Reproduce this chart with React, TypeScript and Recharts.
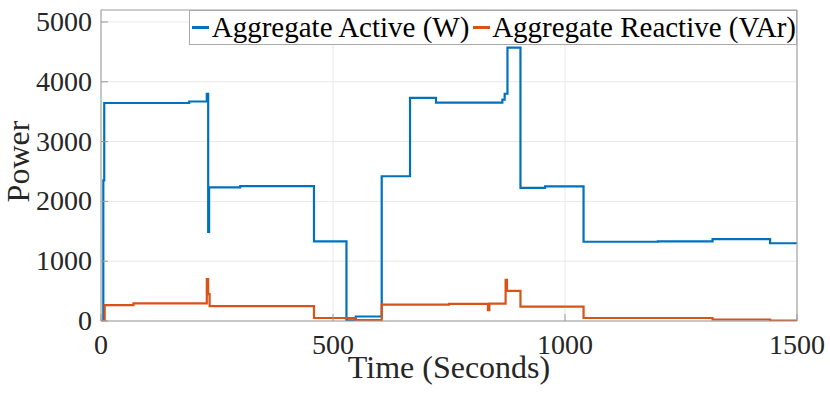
import React from 'react';
import { LineChart, Line, XAxis, YAxis, CartesianGrid } from 'recharts';

// step points (time in s, power)
const activeTime = [0, 5, 7, 190, 228, 231, 233, 300, 459, 529, 549, 605, 666, 722, 865, 870, 876, 904, 957, 1040, 1200, 1318, 1442, 1500];
const activePower = [0, 2350, 3645, 3670, 3800, 1490, 2235, 2255, 1330, 10, 75, 2420, 3730, 3650, 3700, 3800, 4570, 2225, 2250, 1325, 1330, 1370, 1300, 1300];

const reactiveTime = [0, 8, 70, 228, 231, 234, 459, 549, 605, 750, 834, 837, 872, 875, 904, 1040, 1318, 1442, 1500];
const reactivePower = [0, 265, 295, 700, 450, 250, 50, 15, 275, 285, 180, 290, 690, 505, 240, 50, 25, 5, 5];

const xTicks = [0, 500, 1000, 1500];
const yTicks = [0, 1000, 2000, 3000, 4000, 5000];

const BLUE = '#0072BD';
const RED = '#D95319';
const AXIS = '#9a9a9a';
const FONT = 'Liberation Serif';

const activeData = activeTime.map((t, i) => ({ t, v: activePower[i] }));
const reactiveData = reactiveTime.map((t, i) => ({ t, v: reactivePower[i] }));

function renderXTick(props: any) {
    const { x, y, payload } = props;
    return (
        <text key={`xt-${payload.value}`} x={x} y={y + 19} textAnchor="middle" fill="#262626"
            fontFamily={FONT} fontSize={28}>
            {String(payload.value)}
        </text>
    );
}

function renderYTick(props: any) {
    const { x, y, payload } = props;
    return (
        <text key={`yt-${payload.value}`} x={x} y={y + 9} textAnchor="end" fill="#262626"
            fontFamily={FONT} fontSize={28}>
            {String(payload.value)}
        </text>
    );
}

const YLabel = (props: any) => {
    const vb = props.viewBox || { x: 0, y: 0, width: 0, height: 0 };
    const cx = 18;
    const cy = vb.y + vb.height / 2 - 4;
    return (
        <text x={cx} y={cy} transform={`rotate(-90 ${cx} ${cy})`} textAnchor="middle" dominantBaseline="central"
            fontSize={32} fontFamily={FONT} fill="#262626">Power</text>
    );
};

const XLabel = (props: any) => {
    const vb = props.viewBox || { x: 0, y: 0, width: 0, height: 0 };
    return (
        <text x={vb.x + vb.width / 2} y={378} textAnchor="middle" fontSize={32} fontFamily={FONT} fill="#262626">
            Time (Seconds)
        </text>
    );
};

const LegendBox = () => (
    <div style={{
        position: 'absolute', left: 189, top: 10, width: 606, height: 33, border: '1px solid #aaa',
        background: '#fff', display: 'flex', alignItems: 'center', fontFamily: FONT, fontSize: 29,
        lineHeight: '33px', color: '#000', whiteSpace: 'nowrap', overflow: 'hidden',
    }}>
        <span style={{ display: 'inline-block', width: 17, height: 3, background: BLUE, marginLeft: 2, marginRight: 3 }} />
        <span>Aggregate Active (W)</span>
        <span style={{ display: 'inline-block', width: 17, height: 3, background: RED, marginLeft: 4, marginRight: 2 }} />
        <span>Aggregate Reactive (VAr)</span>
    </div>
);

export default function App() {
    return (
        <div style={{ position: 'absolute', left: 0, top: 0, width: 830, height: 394, background: '#fff' }}>
            <LineChart width={830} height={394} margin={{ top: 0, right: 0, bottom: 0, left: 0 }}>
                <CartesianGrid stroke="#e8e8e8" verticalValues={xTicks} horizontalValues={yTicks} />
                <XAxis dataKey="t" type="number" domain={[0, 1500]} ticks={xTicks} height={73}
                    stroke={AXIS} tickSize={-7} tickMargin={21} tick={renderXTick} label={<XLabel />} />
                <XAxis xAxisId="top" orientation="top" type="number" domain={[0, 1500]} ticks={xTicks}
                    height={10} stroke={AXIS} tickSize={-7} tick={false} allowDataOverflow />
                <YAxis type="number" domain={[0, 5200]} ticks={yTicks} width={101} stroke={AXIS}
                    tickSize={-7} tickMargin={16} tick={renderYTick} label={<YLabel />} allowDataOverflow />
                <YAxis yAxisId="right" orientation="right" type="number" domain={[0, 5200]} ticks={yTicks}
                    width={33} stroke={AXIS} tickSize={-7} tick={false} allowDataOverflow />
                <Line data={activeData} dataKey="v" type="stepAfter" stroke={BLUE} strokeWidth={2.2}
                    dot={false} isAnimationActive={false} />
                <Line data={reactiveData} dataKey="v" type="stepAfter" stroke={RED} strokeWidth={2.2}
                    dot={false} isAnimationActive={false} />
            </LineChart>
            <LegendBox />
        </div>
    );
}
